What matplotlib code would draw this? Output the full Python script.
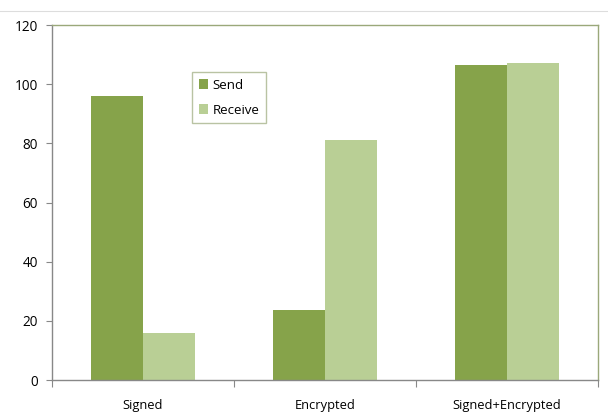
import numpy as np
import matplotlib
matplotlib.use('Agg')
import matplotlib.pyplot as plt
from matplotlib.lines import Line2D

categories = ['Signed', 'Encrypted', 'Signed+Encrypted']
send = [96, 23.5, 106.5]
receive = [16, 81, 107]
yticks = [0, 20, 40, 60, 80, 100, 120]

plt.rcParams['font.family'] = ['Open Sans', 'DejaVu Sans']

fig = plt.figure(figsize=(6.08, 4.13), dpi=100)
ax = fig.add_axes([52/608, 1-380/413, 546/608, 355/413])

x = np.arange(len(categories))
w = 0.287
ax.bar(x - w/2, send, w, color='#86a34a', label='Send')
ax.bar(x + w/2, receive, w, color='#b9cf95', label='Receive')

ax.set_xlim(-0.5, 2.5)
ax.set_ylim(0, 120)
ax.set_yticks(yticks)
ax.set_xticks([-0.5, 0.5, 1.5, 2.5])
ax.set_xticklabels([])
ax.set_xticks(x, minor=True)
ax.set_xticklabels(categories, minor=True, fontsize=9.3)
ax.tick_params(axis='x', which='minor', length=0, pad=14)
ax.tick_params(axis='x', which='major', length=5, color='#888888', direction='out')
ax.tick_params(axis='y', length=4, color='#888888', labelsize=9.8, pad=6)

for side in ['top', 'right']:
    ax.spines[side].set_color('#9aa87a')
    ax.spines[side].set_linewidth(1.0)
for side in ['left', 'bottom']:
    ax.spines[side].set_color('#888888')
    ax.spines[side].set_linewidth(1.0)

leg = ax.legend(loc='upper left', bbox_to_anchor=(140/546, 1-47/355),
                fontsize=9.6, frameon=True, fancybox=False,
                handlelength=0.7, handleheight=0.7, handletextpad=0.35,
                labelspacing=0.9, borderpad=0.5, borderaxespad=0)
leg.get_frame().set_edgecolor('#a8b48c')
leg.get_frame().set_linewidth(1.0)

# faint rule across the top
fig.add_artist(Line2D([0, 1], [1-11/413, 1-11/413], color='#dddddd', lw=0.8))

fig.savefig('out.png', dpi=100)
